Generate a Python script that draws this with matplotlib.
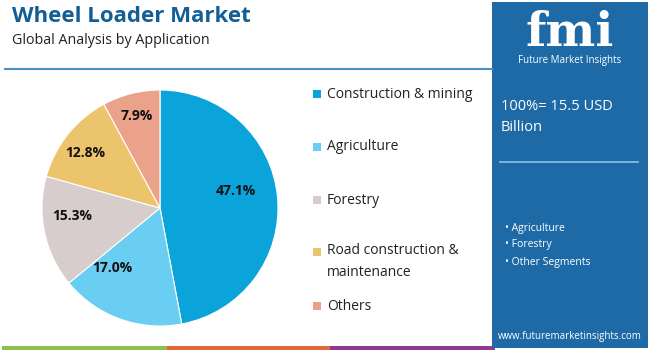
import matplotlib.pyplot as plt
from matplotlib.patches import Rectangle

plt.rcParams['font.family'] = ['Open Sans', 'DejaVu Sans']

# Data
segments = ['Construction & mining', 'Agriculture', 'Forestry',
            'Road construction &\nmaintenance', 'Others']
shares = [47.1, 17.0, 15.3, 12.8, 7.9]
colors = ['#0aa3da', '#6acdf2', '#d6cdcc', '#ecc46b', '#eba28a']
panel_bullets = ['Agriculture', 'Forestry', 'Other Segments']
total_text = '100%= 15.5 USD\nBillion'

W, H = 650, 352
fig = plt.figure(figsize=(W / 100, H / 100), dpi=100)


def px(x, y):
    # pixel coords (from top-left) to figure fraction
    return x / W, 1 - y / H


# background axes in pixel units
bg = fig.add_axes([0, 0, 1, 1])
bg.set_xlim(0, W)
bg.set_ylim(H, 0)
bg.axis('off')

# title block
bg.text(12, 17, 'Wheel Loader Market', fontsize=16, fontweight='bold',
        color='#135e94', va='center', ha='left')
bg.text(12, 40, 'Global Analysis by Application', fontsize=10.3,
        color='#222222', va='center', ha='left')
bg.plot([5, 492], [69, 69], color='#4a8fc2', lw=1.5)

# bottom strip
for x0, x1, c in [(2, 167, '#8bc04a'), (167, 330, '#e0693a'),
                  (330, 495, '#8e3a8f')]:
    bg.add_patch(Rectangle((x0, 346), x1 - x0, 4, color=c, lw=0))

# right panel
bg.add_patch(Rectangle((492, 2), 156, 346, color='#1d6aa6', lw=0))
bg.text(570, 33, 'fmi', fontsize=34, fontweight='bold', color='white',
        ha='center', va='center', family='DejaVu Serif')
bg.text(570, 61, 'Future Market Insights', fontsize=7, color='white',
        ha='center', va='center')
bg.text(501, 117, total_text, fontsize=10.5, color='white', ha='left',
        va='center', linespacing=1.6)
bg.plot([500, 638], [162, 162], color='#8cc3ea', lw=1.2)
for i, b in enumerate(panel_bullets):
    bg.text(505, 229 + i * 16 + (2 if i == 2 else 0), '\u2022 ' + b,
            fontsize=7.5, color='white', ha='left', va='center')
bg.text(570, 337, 'www.futuremarketinsights.com', fontsize=7,
        color='white', ha='center', va='center')

# legend
leg_y = [94, 147, 200, 252, 306]
for lab, c, y in zip(segments, colors, leg_y):
    multi = '\n' in lab
    bg.add_patch(Rectangle((313, y - 4), 8, 8, color=c, lw=0))
    bg.text(327, y - 9 if multi else y, lab, fontsize=10, color='#222222',
            ha='left', va='top' if multi else 'center', linespacing=1.6)

# pie
l, t = px(42, 90)
ax = fig.add_axes([l, t - 236 / H, 236 / W, 236 / H])
wedges, _, autotexts = ax.pie(shares, colors=colors, startangle=90,
                              counterclock=False, autopct='%.1f%%',
                              pctdistance=0.7,
                              wedgeprops=dict(edgecolor='white', linewidth=0.8),
                              textprops=dict(fontsize=10, fontweight='bold',
                                             color='#111111'))
# small label nudges (pixels: right, up)
nudges = [(-6, 9), (-20, 18), (-7, 9), (-10, 3), (-3, 12)]
for txt, (dx, dy) in zip(autotexts, nudges):
    x, y = txt.get_position()
    txt.set_position((x + dx / 118, y + dy / 118))
ax.set_xlim(-1, 1)
ax.set_ylim(-1, 1)
ax.set_aspect('equal')

fig.savefig('out.png', dpi=100)
